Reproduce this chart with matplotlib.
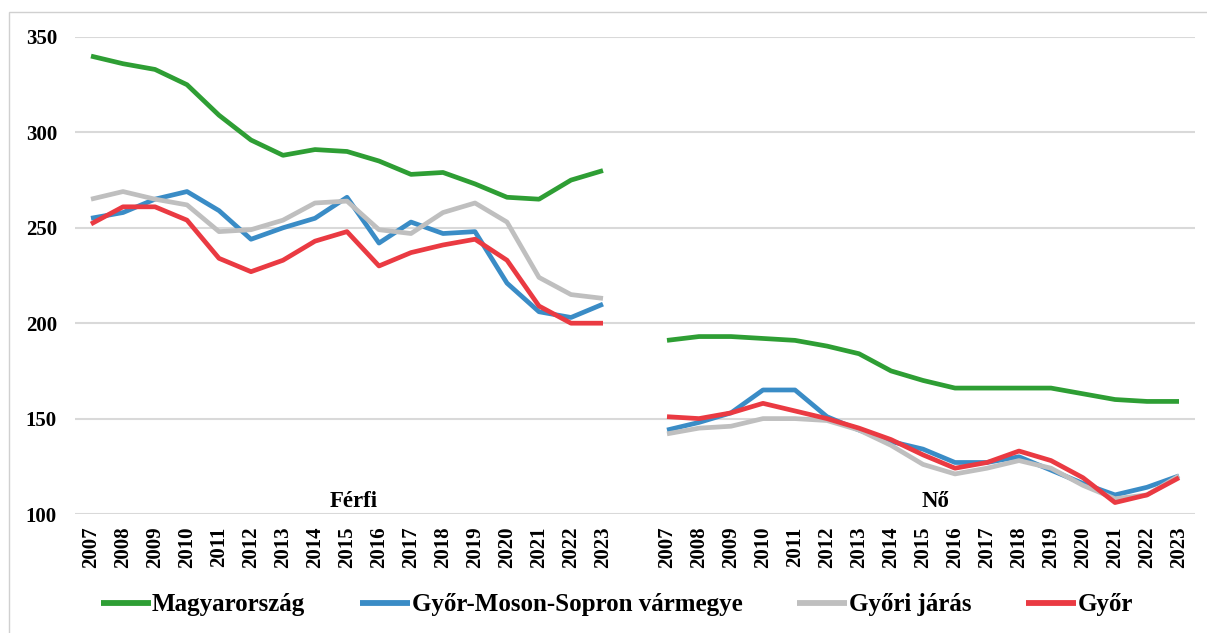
import matplotlib.pyplot as plt
import numpy as np
from matplotlib.patches import Rectangle

plt.rcParams['font.family'] = ['Liberation Serif', 'DejaVu Serif']
plt.rcParams['font.weight'] = 'bold'

years = [str(y) for y in range(2007, 2024)]
groups = ['Férfi', 'Nő']

# rates per year, men then women
magyarorszag_ferfi = [340, 336, 333, 325, 309, 296, 288, 291, 290, 285, 278, 279, 273, 266, 265, 275, 280]
magyarorszag_no = [191, 193, 193, 192, 191, 188, 184, 175, 170, 166, 166, 166, 166, 163, 160, 159, 159]
megye_ferfi = [255, 258, 265, 269, 259, 244, 250, 255, 266, 242, 253, 247, 248, 221, 206, 203, 210]
megye_no = [144, 148, 153, 165, 165, 151, 144, 138, 134, 127, 127, 130, 123, 116, 110, 114, 120]
jaras_ferfi = [265, 269, 265, 262, 248, 249, 254, 263, 264, 249, 247, 258, 263, 253, 224, 215, 213]
jaras_no = [142, 145, 146, 150, 150, 149, 144, 136, 126, 121, 124, 128, 124, 115, 108, 110, 120]
gyor_ferfi = [252, 261, 261, 254, 234, 227, 233, 243, 248, 230, 237, 241, 244, 233, 209, 200, 200]
gyor_no = [151, 150, 153, 158, 154, 150, 145, 139, 131, 124, 127, 133, 128, 119, 106, 110, 119]

series = [
    ('Magyarország', magyarorszag_ferfi, magyarorszag_no, '#2e9e34'),
    ('Győr-Moson-Sopron vármegye', megye_ferfi, megye_no, '#3a8cc6'),
    ('Győri járás', jaras_ferfi, jaras_no, '#bfbfbf'),
    ('Győr', gyor_ferfi, gyor_no, '#ea3a42'),
]

n = len(years)
x_ferfi = np.arange(n)
x_no = np.arange(n) + n + 1

fig = plt.figure(figsize=(12.07, 6.33), dpi=100)
ax = fig.add_axes([75 / 1207, 119 / 633, 1120 / 1207, 477 / 633])

for name, f, w, c in series:
    ax.plot(x_ferfi, f, color=c, lw=3.4, label=name, solid_capstyle='butt')
    ax.plot(x_no, w, color=c, lw=3.4, solid_capstyle='butt')

ax.set_xlim(-0.5, 2 * n + 0.5)
ax.set_ylim(100, 350)
ax.set_yticks(np.arange(100, 351, 50))
ax.grid(axis='y', color='#d9d9d9', lw=1.5)
ax.set_axisbelow(True)
for s in ax.spines.values():
    s.set_visible(False)

ax.set_xticks(np.concatenate([x_ferfi, x_no]))
ax.set_xticklabels(years + years, rotation=90, fontsize=15, fontweight='bold')
ax.tick_params(axis='x', length=0, pad=9)
ax.tick_params(axis='y', length=0, pad=13, labelsize=15)

ax.text(8.2, 103.7, groups[0], ha='center', va='baseline', fontsize=16.5, fontweight='bold')
ax.text(26.4, 103.7, groups[1], ha='center', va='baseline', fontsize=16.5, fontweight='bold')

leg = fig.legend(loc='center', bbox_to_anchor=(0.511, 1 - 605 / 633), ncol=4,
                 frameon=False, fontsize=18, handlelength=2.0, handletextpad=0.05,
                 columnspacing=2.2)
for line in leg.get_lines():
    line.set_linewidth(4.2)

# light frame around the chart
fig.patches.append(Rectangle((9 / 1207, -0.1), 1.2, 1 - 12 / 633 + 0.1,
                             transform=fig.transFigure, fill=False,
                             edgecolor='#d0d0d0', lw=1))

fig.savefig('out.png', dpi=100)
